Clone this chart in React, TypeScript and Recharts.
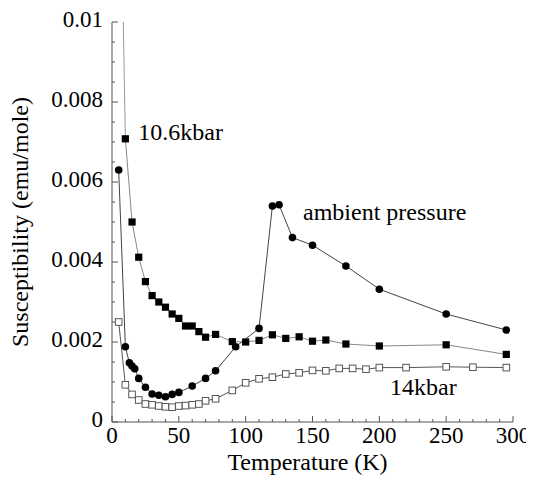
import React from 'react';
import { LineChart, Line, XAxis, YAxis, Label, ReferenceDot } from 'recharts';

// Ambient pressure (filled circles): [T (K), chi (emu/mole)]
const ambientT = [5, 10, 13, 15, 17, 20, 25, 30, 35, 40, 45, 50, 60, 70, 77.5, 92.5, 110, 120, 125, 135, 150, 175, 200, 250, 295];
const ambientChi = [0.0063, 0.00188, 0.00148, 0.0014, 0.00133, 0.00109, 0.00087, 0.0007, 0.00067, 0.00063, 0.00069, 0.00074, 0.0009, 0.00109, 0.00128, 0.00188, 0.00234, 0.0054, 0.00543, 0.00461, 0.00442, 0.0039, 0.00332, 0.0027, 0.0023];

// 10.6 kbar (filled squares)
const p106T = [10, 15, 20, 25, 30, 35, 40, 45, 50, 55, 60, 65, 70, 77.5, 90, 100, 110, 120, 130, 140, 150, 160, 175, 200, 250, 295];
const p106Chi = [0.00708, 0.005, 0.00412, 0.00351, 0.00316, 0.003, 0.00287, 0.0027, 0.00259, 0.0024, 0.0024, 0.00226, 0.00212, 0.00219, 0.00201, 0.002, 0.00204, 0.00218, 0.00209, 0.00213, 0.00202, 0.00205, 0.00195, 0.0019, 0.00193, 0.00169];
// low-temperature Curie tail of the 10.6 kbar curve
const p106TailT = [8.45, 10];
const p106TailChi = [0.01, 0.00708];

// 14 kbar (open squares)
const p14T = [5, 10, 15, 20, 25, 30, 35, 40, 45, 50, 55, 60, 65, 70, 77.5, 90, 100, 110, 120, 130, 140, 150, 160, 170, 180, 190, 200, 220, 250, 270, 295];
const p14Chi = [0.0025, 0.00093, 0.00069, 0.00055, 0.00045, 0.00043, 0.0004, 0.00038, 0.00037, 0.0004, 0.00041, 0.00043, 0.00045, 0.00053, 0.00058, 0.00079, 0.00098, 0.00108, 0.00112, 0.0012, 0.00123, 0.00129, 0.00128, 0.00134, 0.00134, 0.00132, 0.00136, 0.00136, 0.00138, 0.00137, 0.00136];

// Axis ticks
const xTicks = [0, 10, 20, 30, 40, 50, 60, 70, 80, 90, 100, 110, 120, 130, 140, 150, 160, 170, 180, 190, 200, 210, 220, 230, 240, 250, 260, 270, 280, 290, 300];
const yTicks = [0, 0.0005, 0.001, 0.0015, 0.002, 0.0025, 0.003, 0.0035, 0.004, 0.0045, 0.005, 0.0055, 0.006, 0.0065, 0.007, 0.0075, 0.008, 0.0085, 0.009, 0.0095, 0.01];
const yLabelValues = [0, 0.002, 0.004, 0.006, 0.008, 0.01];
const yLabelTexts = ['0', '0.002', '0.004', '0.006', '0.008', '0.01'];

// Annotations
const annoTexts = ['10.6kbar', 'ambient pressure', '14kbar'];
const annoT = [19.7, 142.9, 208];
const annoChi = [0.00705, 0.00505, 0.000675];

const zip = (ts: number[], cs: number[]) => ts.map((T, i) => ({ T, chi: cs[i] }));
const ambient = zip(ambientT, ambientChi);
const p106 = zip(p106T, p106Chi);
const p106Tail = zip(p106TailT, p106TailChi);
const p14 = zip(p14T, p14Chi);

const FONT = 'Liberation Serif';
const AXIS = '#555';

const isXMajor = (v: number) => v % 50 === 0;
const yLabelFor = (v: number) => {
  const i = yLabelValues.findIndex((l) => Math.abs(l - v) < 1e-9);
  return i >= 0 ? yLabelTexts[i] : null;
};

const BottomTick = (props: any) => {
  const { x, y, payload } = props;
  const v = payload.value;
  const major = isXMajor(v);
  return (
    <g>
      <line x1={x} x2={x} y1={y} y2={y - (major ? 6 : 3)} stroke={AXIS} />
      {major && (
        <text x={x} y={y + 21} textAnchor="middle" fontSize={23} fontFamily={FONT} fill="#000">
          {v}
        </text>
      )}
    </g>
  );
};

const TopTick = (props: any) => {
  const { x, y, payload } = props;
  const major = isXMajor(payload.value);
  return <line x1={x} x2={x} y1={y} y2={y + (major ? 6 : 3)} stroke={AXIS} />;
};

const LeftTick = (props: any) => {
  const { x, y, payload } = props;
  const lab = yLabelFor(payload.value);
  return (
    <g>
      <line x1={x} x2={x + (lab ? 6 : 3)} y1={y} y2={y} stroke={AXIS} />
      {lab && (
        <text x={x - 9} y={y + 5} textAnchor="end" fontSize={23} fontFamily={FONT} fill="#000">
          {lab}
        </text>
      )}
    </g>
  );
};

const RightTick = (props: any) => {
  const { x, y, payload } = props;
  const lab = yLabelFor(payload.value);
  return <line x1={x} x2={x - (lab ? 6 : 3)} y1={y} y2={y} stroke={AXIS} />;
};

const CircleDot = (props: any) => {
  const { cx, cy, index } = props;
  return <circle key={`c${index}`} cx={cx} cy={cy} r={3.8} fill="#000" stroke="none" />;
};
const SquareDot = (props: any) => {
  const { cx, cy, index } = props;
  return <rect key={`s${index}`} x={cx - 3.6} y={cy - 3.6} width={7.2} height={7.2} fill="#000" stroke="none" />;
};
const OpenSquareDot = (props: any) => {
  const { cx, cy, index } = props;
  return <rect key={`o${index}`} x={cx - 3.3} y={cy - 3.3} width={6.6} height={6.6} fill="#fff" stroke="#555" strokeWidth={1} />;
};

const XTitle = (props: any) => {
  const { viewBox } = props;
  return (
    <text x={viewBox.x + viewBox.width / 2 - 5} y={viewBox.y + 48} textAnchor="middle" fontSize={24} fontFamily={FONT} fill="#000">
      Temperature (K)
    </text>
  );
};

const YTitle = (props: any) => {
  const { viewBox } = props;
  const cx = 20;
  const cy = viewBox.y + viewBox.height / 2;
  return (
    <text x={cx} y={cy} transform={`rotate(-90 ${cx} ${cy})`} textAnchor="middle" fontSize={24} fontFamily={FONT} fill="#000">
      Susceptibility (emu/mole)
    </text>
  );
};

const AnnoLabel = (text: string) => (props: any) => {
  const { viewBox } = props;
  return (
    <text x={viewBox.x} y={viewBox.y} textAnchor="start" fontSize={24} fontFamily={FONT} fill="#000">
      {text}
    </text>
  );
};

export default function App() {
  return (
    <LineChart width={526} height={475} margin={{ top: 14, right: 21, bottom: 0, left: 0 }}>
      <XAxis
        xAxisId="b"
        dataKey="T"
        type="number"
        domain={[0, 300]}
        ticks={xTicks}
        interval={0}
        orientation="bottom"
        height={61}
        tickSize={0}
        tickMargin={0}
        tickLine={false}
        axisLine={{ stroke: AXIS }}
        tick={BottomTick}
        allowDataOverflow
      >
        <Label content={XTitle} />
      </XAxis>
      <XAxis
        xAxisId="t"
        type="number"
        domain={[0, 300]}
        ticks={xTicks}
        interval={0}
        orientation="top"
        height={0}
        tickSize={0}
        tickMargin={0}
        tickLine={false}
        axisLine={{ stroke: AXIS }}
        tick={TopTick}
      />
      <YAxis
        yAxisId="l"
        type="number"
        domain={[0, 0.01]}
        ticks={yTicks}
        interval={0}
        orientation="left"
        width={104}
        tickSize={0}
        tickMargin={0}
        tickLine={false}
        axisLine={{ stroke: AXIS }}
        tick={LeftTick}
        allowDataOverflow
      >
        <Label content={YTitle} />
      </YAxis>
      <YAxis
        yAxisId="r"
        type="number"
        domain={[0, 0.01]}
        ticks={yTicks}
        interval={0}
        orientation="right"
        width={0}
        tickSize={0}
        tickMargin={0}
        tickLine={false}
        axisLine={{ stroke: AXIS }}
        tick={RightTick}
      />
      <Line xAxisId="b" yAxisId="l" data={p106Tail} dataKey="chi" type="linear" stroke="#999" strokeWidth={1} dot={false} isAnimationActive={false} />
      <Line xAxisId="b" yAxisId="l" data={p14} dataKey="chi" type="linear" stroke="#555" strokeWidth={1} dot={OpenSquareDot} isAnimationActive={false} />
      <Line xAxisId="b" yAxisId="l" data={p106} dataKey="chi" type="linear" stroke="#888" strokeWidth={1} dot={SquareDot} isAnimationActive={false} />
      <Line xAxisId="b" yAxisId="l" data={ambient} dataKey="chi" type="linear" stroke="#444" strokeWidth={1} dot={CircleDot} isAnimationActive={false} />
      {annoTexts.map((t, i) => (
        <ReferenceDot key={t} xAxisId="b" yAxisId="l" x={annoT[i]} y={annoChi[i]} r={0} fill="none" stroke="none" label={<Label content={AnnoLabel(t)} />} />
      ))}
    </LineChart>
  );
}
